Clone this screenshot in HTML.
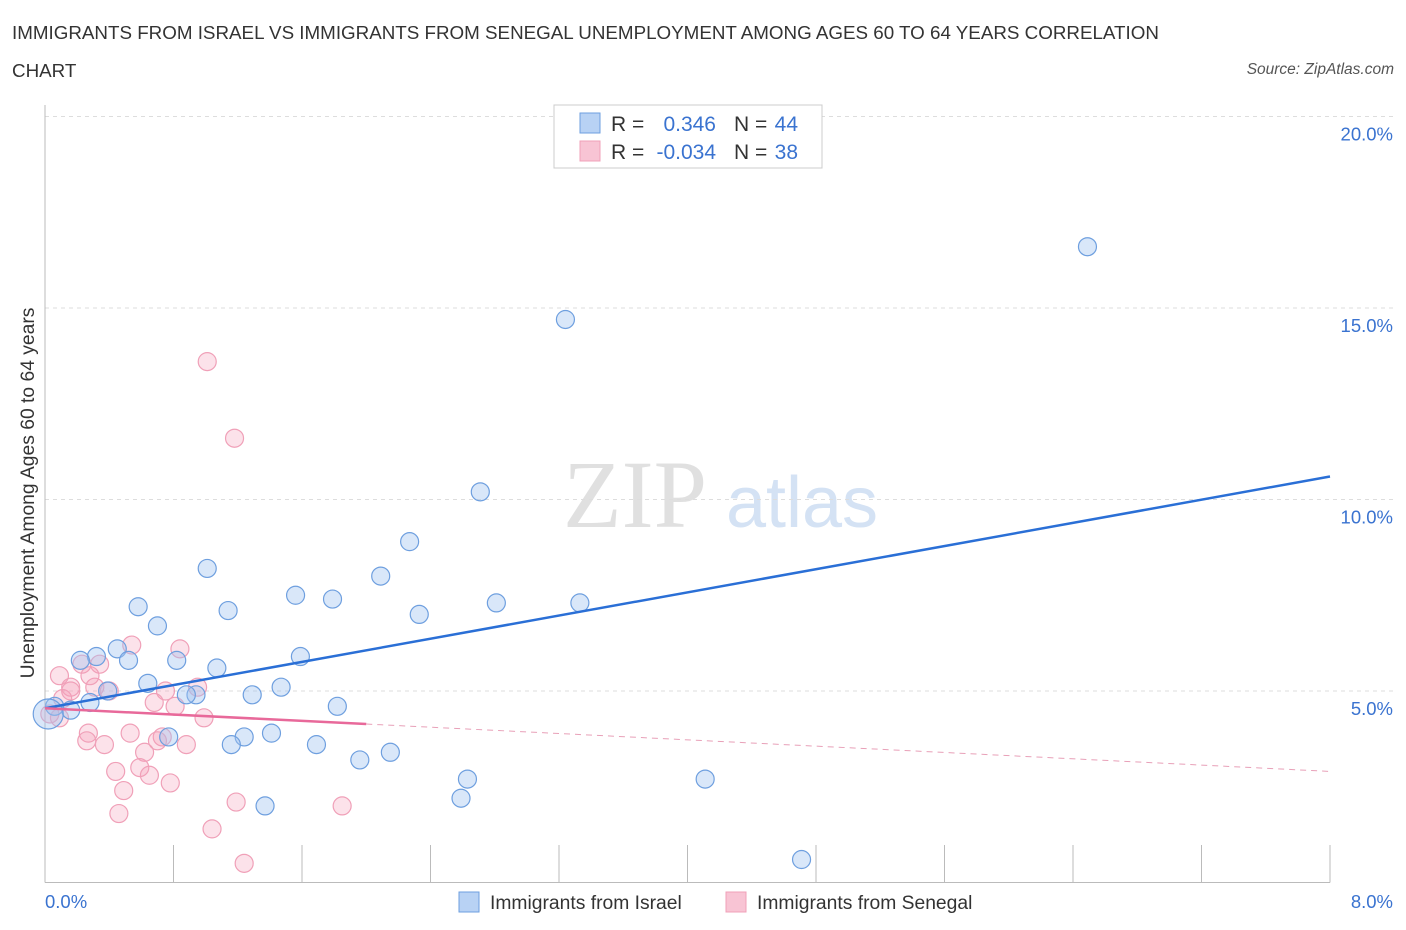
<!DOCTYPE html>
<html><head><meta charset="utf-8"><style>
body{margin:0;background:#fff;font-family:"Liberation Sans",sans-serif;}
#wrap{position:relative;width:1406px;height:930px;overflow:hidden;}
.t{position:absolute;white-space:nowrap;}
</style></head><body>
<div id="wrap">
<div class="t" style="left:12px;top:14px;font-size:18.8px;color:#333;line-height:38px;">IMMIGRANTS FROM ISRAEL VS IMMIGRANTS FROM SENEGAL UNEMPLOYMENT AMONG AGES 60 TO 64 YEARS CORRELATION<br>CHART</div>
<div class="t" style="right:12px;top:61px;font-size:15.5px;color:#555;font-style:italic;">Source: ZipAtlas.com</div>
<svg id="svg" width="1406" height="930" style="position:absolute;left:0;top:0"></svg>
</div>
<script>
const yTicks=[5,10,15,20];
const yTickLabels=["5.0%","10.0%","15.0%","20.0%"];
const xTickLabels=["0.0%","8.0%"];
const israelX=[6.49,3.24,2.71,2.27,1.01,2.09,1.56,1.79,0.58,1.14,2.33,2.81,3.33,0.70,0.45,0.32,0.52,0.22,0.82,1.59,1.07,0.64,1.47,0.39,0.94,1.29,0.88,1.82,0.28,0.16,0.06,0.02,0.77,1.41,1.24,1.16,1.69,2.15,1.96,2.63,4.11,2.59,1.37,4.71];
const israelY=[16.6,14.7,10.2,8.9,8.2,8.0,7.5,7.4,7.2,7.1,7.0,7.3,7.3,6.7,6.1,5.9,5.8,5.8,5.8,5.9,5.6,5.2,5.1,5.0,4.9,4.9,4.9,4.6,4.7,4.5,4.6,4.4,3.8,3.9,3.8,3.6,3.6,3.4,3.2,2.7,2.7,2.2,2.0,0.6];
const senegalX=[1.01,1.18,0.54,0.84,0.23,0.34,0.09,0.16,0.31,0.40,0.75,0.95,0.11,0.68,0.81,0.99,0.09,0.27,0.26,0.53,0.73,0.70,0.37,0.88,0.62,0.59,0.44,0.65,0.78,0.49,1.19,1.85,0.46,1.04,1.24,0.03,0.16,0.28];
const senegalY=[13.6,11.6,6.2,6.1,5.7,5.7,5.4,5.1,5.1,5.0,5.0,5.1,4.8,4.7,4.6,4.3,4.3,3.9,3.7,3.9,3.8,3.7,3.6,3.6,3.4,3.0,2.9,2.8,2.6,2.4,2.1,2.0,1.8,1.4,0.5,4.4,5.0,5.4];
const israelSize=[9,9,9,9,9,9,9,9,9,9,9,9,9,9,9,9,9,9,9,9,9,9,9,9,9,9,9,9,9,9,9,15,9,9,9,9,9,9,9,9,9,9,9,9];
const trendIsrael=[4.55,10.6];
const trendSenegal=[4.55,2.9];
const senegalSolidEnd=2.0;
const X0=45,X1=1330,Y0=882.5,PY=38.3;
const sx=v=>X0+v/8*(X1-X0), sy=v=>Y0-v*PY;
const svg=document.getElementById('svg');const NS='http://www.w3.org/2000/svg';
function mk(tag,attrs,parent){const e=document.createElementNS(NS,tag);for(const k in attrs)e.setAttribute(k,attrs[k]);(parent||svg).appendChild(e);return e;}
let w=mk('text',{x:635,y:527,'font-size':96,'font-family':'Liberation Serif,serif',fill:'#e0e0e0','text-anchor':'middle'});w.textContent='ZIP';


let w2=mk('text',{x:802,y:527,'font-size':72,'font-family':'Liberation Sans,sans-serif',fill:'#d4e2f4','text-anchor':'middle'});w2.textContent='atlas';


yTicks.forEach((t,i)=>{
 const g=mk('line',{x1:X0,x2:1395,y1:sy(t),y2:sy(t),stroke:'#ddd','stroke-dasharray':'4,4'});
 
 
 const l=mk('text',{x:1393,y:sy(t)+24,'font-size':18.5,fill:'#3a73d0','text-anchor':'end','font-family':'Liberation Sans,sans-serif'});l.textContent=yTickLabels[i];
 
 
});
let ax=mk('line',{x1:X0,x2:X0,y1:105,y2:Y0,stroke:'#bbb'});


let bx=mk('line',{x1:X0,x2:X1,y1:Y0,y2:Y0,stroke:'#bbb'});


for(let i=1;i<=10;i++){const x=X0+i*(X1-X0)/10;const tk=mk('line',{x1:x,x2:x,y1:845,y2:Y0,stroke:'#bbb'});
 
 }
[[X0,'start',0],[1393,'end',1]].forEach(([x,a,i])=>{const l=mk('text',{x:x,y:908,'font-size':18.5,fill:'#3a73d0','text-anchor':a,'font-family':'Liberation Sans,sans-serif'});l.textContent=xTickLabels[i];
 
 });
let yt=mk('text',{transform:'translate(34,493) rotate(-90)','font-size':19.3,fill:'#333','text-anchor':'middle','font-family':'Liberation Sans,sans-serif'});yt.textContent='Unemployment Among Ages 60 to 64 years';


senegalX.forEach((v,i)=>{const c=mk('circle',{cx:sx(v),cy:sy(senegalY[i]),r:9,fill:'rgba(244,160,186,0.3)',stroke:'#f0a0b8','stroke-width':1.2});
 
 });
israelX.forEach((v,i)=>{const c=mk('circle',{cx:sx(v),cy:sy(israelY[i]),r:israelSize[i],fill:'rgba(160,196,240,0.4)',stroke:'#6e9fdf','stroke-width':1.2});
 
 });
let tb=mk('line',{x1:sx(0),y1:sy(trendIsrael[0]),x2:sx(8),y2:sy(trendIsrael[1]),stroke:'#2a6fd6','stroke-width':2.5});


const sEnd=trendSenegal[0]+(trendSenegal[1]-trendSenegal[0])*senegalSolidEnd/8;
let tp=mk('line',{x1:sx(0),y1:sy(trendSenegal[0]),x2:sx(senegalSolidEnd),y2:sy(sEnd),stroke:'#e8699a','stroke-width':2.5});


let td=mk('line',{x1:sx(senegalSolidEnd),y1:sy(sEnd),x2:sx(8),y2:sy(trendSenegal[1]),stroke:'#e8a0b8','stroke-width':1,'stroke-dasharray':'6,5'});


let lg=mk('g',{});


mk('rect',{x:554,y:105,width:268,height:63,fill:'#fff',stroke:'#ccc'},lg);
mk('rect',{x:580,y:113,width:20,height:20,fill:'#b8d2f4',stroke:'#6e9fdf'},lg);
mk('rect',{x:580,y:141,width:20,height:20,fill:'#f8c4d4',stroke:'#f0a0b8'},lg);
const rows=[[131,'0.346','44'],[159,'-0.034','38']];
rows.forEach(([y,r,n])=>{
 const f={'font-size':21,'font-family':'Liberation Sans,sans-serif'};
 let a=mk('text',Object.assign({x:611,y:y,fill:'#333'},f),lg);a.textContent='R =';
 let b=mk('text',Object.assign({x:716,y:y,fill:'#3a73d0','text-anchor':'end'},f),lg);b.textContent=r;
 let c=mk('text',Object.assign({x:734,y:y,fill:'#333'},f),lg);c.textContent='N =';
 let d=mk('text',Object.assign({x:798,y:y,fill:'#3a73d0','text-anchor':'end'},f),lg);d.textContent=n;
});
[[459,'#b8d2f4','#6e9fdf','Immigrants from Israel','legend-israel'],[726,'#f8c4d4','#f0a0b8','Immigrants from Senegal','legend-senegal']].forEach(([x,f,s,t,nm])=>{
 const g=mk('g',{});
 
 
 mk('rect',{x:x,y:892,width:20,height:20,fill:f,stroke:s},g);
 const tx=mk('text',{x:x+31,y:909,'font-size':19.3,fill:'#333','font-family':'Liberation Sans,sans-serif'},g);tx.textContent=t;
});
</script>
</body></html>
